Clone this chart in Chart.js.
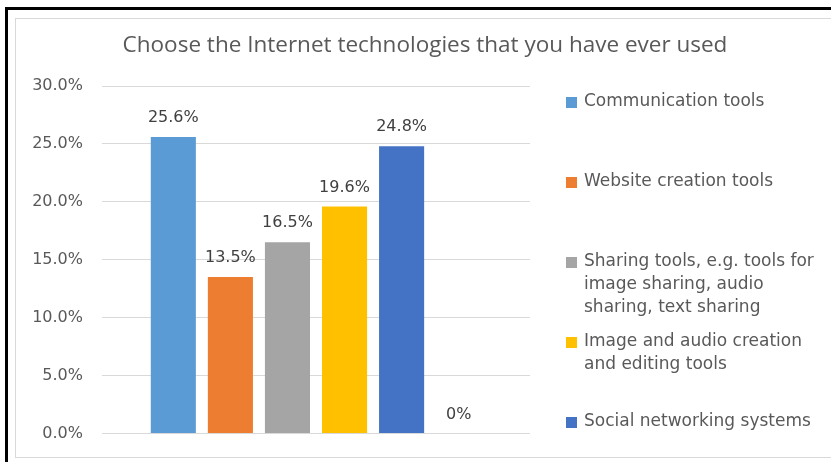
<!DOCTYPE html>
<html lang="en">
<head>
<meta charset="UTF-8" />
<title>Internet technologies used</title>
<style>
  body { margin: 0; background: #fff; overflow: hidden; }
  .wrap { position: relative; width: 831px; height: 462px; overflow: hidden; }
  /* black page frame, cut at right and bottom */
  .outer {
    position: absolute; left: 5px; top: 7px; width: 900px; height: 520px;
    border-left: 3px solid #000; border-top: 3px solid #000;
  }
  /* light chart frame */
  .inner {
    position: absolute; left: 15px; top: 18px; width: 900px; height: 438px;
    border: 1px solid #d9d9d9;
  }
  canvas { position: absolute; left: 0; top: 0; }
</style>
</head>
<body>
<div class="wrap">
  <div class="outer"></div>
  <div class="inner"></div>
  <canvas id="chart" width="831" height="462"></canvas>
</div>

<script src="https://cdn.jsdelivr.net/npm/chart.js"></script>
<script>
  const chartTitle = 'Choose the Internet technologies that you have ever used';
  const seriesNames = [
    'Communication tools',
    'Website creation tools',
    'Sharing tools, e.g. tools for\nimage sharing, audio\nsharing, text sharing',
    'Image and audio creation\nand editing tools',
    'Social networking systems',
    'Other'
  ];
  const seriesValues = [25.6, 13.5, 16.5, 19.6, 24.8, 0];
  const seriesColors = ['#5b9bd5', '#ed7d31', '#a5a5a5', '#ffc000', '#4472c4', '#70ad47'];
  const legendCount = 5;           // last series has no legend entry
  const yTicks = [0, 5, 10, 15, 20, 25, 30];

  const fmtPct = v => v === 0 ? '0%' : v.toFixed(1) + '%';

  // title, value labels and the side legend
  const decor = {
    id: 'decor',
    afterDatasetsDraw(chart) {
      const ctx = chart.ctx;
      ctx.save();

      ctx.fillStyle = '#595959';
      ctx.font = '22.5px "Open Sans"';
      ctx.textAlign = 'center';
      ctx.textBaseline = 'middle';
      ctx.fillText(chartTitle, 425, 46);

      ctx.fillStyle = '#404040';
      ctx.font = '16px "DejaVu Sans"';
      chart.data.datasets.forEach((ds, i) => {
        const bar = chart.getDatasetMeta(i).data[0];
        ctx.fillText(fmtPct(ds.data[0]), bar.x, bar.y - 19);
      });

      ctx.textAlign = 'left';
      ctx.font = '17px "DejaVu Sans"';
      for (let i = 0; i < legendCount; i++) {
        const y = 102 + i * 80;
        ctx.fillStyle = seriesColors[i];
        ctx.fillRect(566, y - 5, 11, 11);
        ctx.fillStyle = '#595959';
        seriesNames[i].split('\n').forEach((line, k) => {
          ctx.fillText(line, 584, y + k * 23);
        });
      }
      ctx.restore();
    }
  };

  new Chart(document.getElementById('chart'), {
    type: 'bar',
    data: {
      labels: [''],
      datasets: seriesNames.map((name, i) => ({
        label: name.replace(/\n/g, ' '),
        data: [seriesValues[i]],
        backgroundColor: seriesColors[i],
        categoryPercentage: 0.8,
        barPercentage: 0.79
      }))
    },
    options: {
      responsive: false,
      animation: false,
      layout: { padding: { left: 0, right: 301, top: 86, bottom: 27 } },
      plugins: {
        legend: { display: false },
        title: { display: false },
        tooltip: { enabled: false }
      },
      scales: {
        x: { display: false },
        y: {
          min: 0,
          max: 30,
          afterFit(scale) { scale.width = 102; },
          afterBuildTicks(scale) { scale.ticks = yTicks.map(v => ({ value: v })); },
          border: { display: false },
          grid: { color: '#d9d9d9', lineWidth: 1, drawTicks: false },
          ticks: {
            padding: 19,
            color: '#595959',
            font: { family: 'DejaVu Sans', size: 16 },
            callback: v => v.toFixed(1) + '%'
          }
        }
      }
    },
    plugins: [decor]
  });
</script>
</body>
</html>
